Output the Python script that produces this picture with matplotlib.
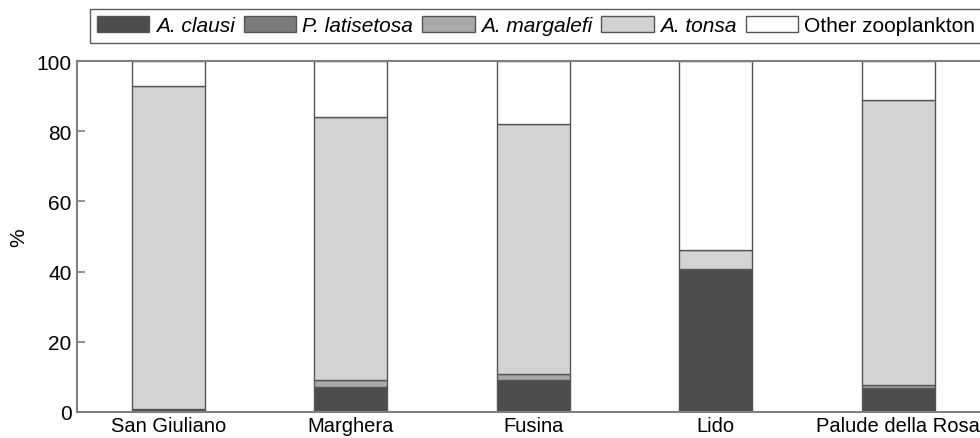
import numpy as np
import matplotlib
matplotlib.use("Agg")
import matplotlib.pyplot as plt
from matplotlib.patches import Patch

plt.rcParams["font.family"] = ["Liberation Sans", "DejaVu Sans"]

# 站点与各类群百分比
stations = ["San Giuliano", "Marghera", "Fusina", "Lido", "Palude della Rosa"]
a_clausi = [0.8, 7.1, 9.1, 40.7, 6.8]
p_latisetosa = [0.0, 0.0, 0.0, 0.0, 0.0]
a_margalefi = [0.0, 1.9, 1.8, 0.0, 0.9]
a_tonsa = [92.1, 75.0, 71.1, 5.5, 81.3]
other = [7.1, 16.0, 18.0, 53.8, 11.0]

series_names = ["A. clausi", "P. latisetosa", "A. margalefi", "A. tonsa", "Other zooplankton"]
series_colors = ["#4d4d4d", "#7b7b7b", "#a9a9a9", "#d3d3d3", "#ffffff"]
series_italic = [True, True, True, True, False]

fig = plt.figure(figsize=(9.8, 4.39), dpi=100)
# 右侧在原图中被裁掉，所以坐标轴故意超出画布
ax = fig.add_axes([77 / 980, 26 / 439, 912.5 / 980, 351 / 439])

x = np.arange(len(stations))
bottom = np.zeros(len(stations))
for vals, color in zip([a_clausi, p_latisetosa, a_margalefi, a_tonsa, other], series_colors):
    vals = np.array(vals)
    ax.bar(x, vals, width=0.4, bottom=bottom, color=color,
           edgecolor="#555555", linewidth=1.0)
    bottom += vals

ax.set_xlim(-0.5, 4.5)
ax.set_ylim(0, 100)
ax.set_yticks([0, 20, 40, 60, 80, 100])
ax.set_xticks(x)
ax.set_xticklabels(stations, fontsize=14.5)
ax.tick_params(axis="x", length=0, pad=3)
ax.tick_params(axis="y", direction="in", length=6, width=1.2, color="#808080",
               labelsize=15, pad=4)
ax.set_ylabel("%", fontsize=15, labelpad=6)
for sp in ax.spines.values():
    sp.set_color("#808080")
    sp.set_linewidth(1.5)

handles = [Patch(facecolor=c, edgecolor="#555555", linewidth=1.0) for c in series_colors]
leg = fig.legend(handles, series_names, loc="upper left",
                 bbox_to_anchor=(90 / 980, 1 - 10 / 439), ncol=5,
                 fontsize=15, frameon=True, fancybox=False, edgecolor="#333333",
                 handlelength=2.5, handleheight=0.75, handletextpad=0.3,
                 columnspacing=0.45, borderpad=0.35, borderaxespad=0)
leg.get_frame().set_linewidth(1.0)
for txt, it in zip(leg.get_texts(), series_italic):
    if it:
        txt.set_fontstyle("italic")

fig.savefig("out.png", dpi=100)
